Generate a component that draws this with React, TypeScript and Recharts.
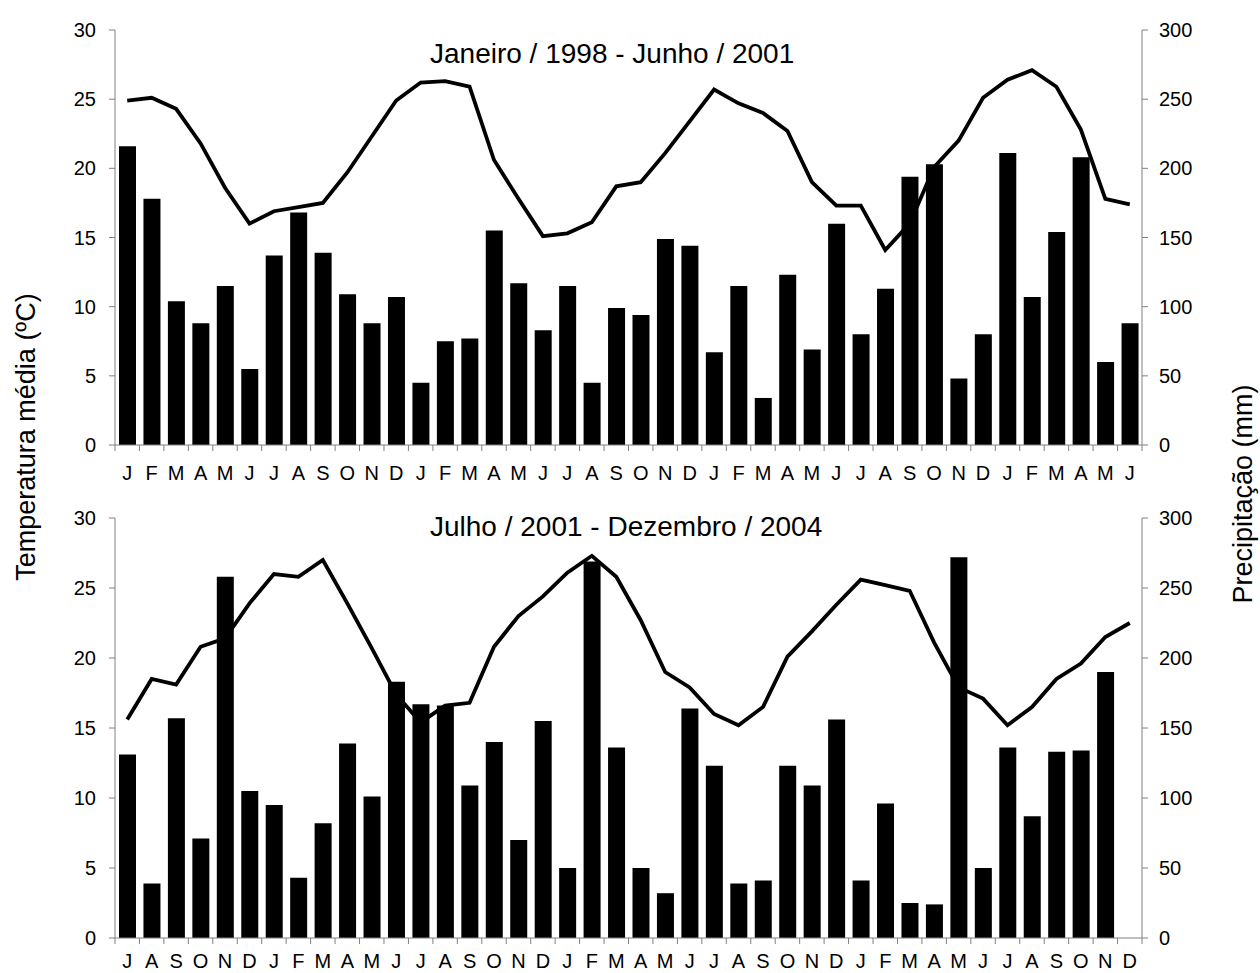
import React from 'react';
import { ComposedChart, Bar, Line, XAxis, YAxis } from 'recharts';

// Jan/1998 - Jun/2001
const TOP_MONTHS = ['J','F','M','A','M','J','J','A','S','O','N','D','J','F','M','A','M','J','J','A','S','O','N','D','J','F','M','A','M','J','J','A','S','O','N','D','J','F','M','A','M','J'];
const TOP_RAIN = [216, 178, 104, 88, 115, 55, 137, 168, 139, 109, 88, 107, 45, 75, 77, 155, 117, 83, 115, 45, 99, 94, 149, 144, 67, 115, 34, 123, 69, 160, 80, 113, 194, 203, 48, 80, 211, 107, 154, 208, 60, 88];
const TOP_TEMP = [24.9, 25.1, 24.3, 21.8, 18.6, 16.0, 16.9, 17.2, 17.5, 19.7, 22.3, 24.9, 26.2, 26.3, 25.9, 20.6, 17.8, 15.1, 15.3, 16.1, 18.7, 19.0, 21.1, 23.4, 25.7, 24.7, 24.0, 22.7, 19.0, 17.3, 17.3, 14.1, 16.0, 20.1, 22.0, 25.1, 26.4, 27.1, 25.9, 22.8, 17.8, 17.4];

// Jul/2001 - Dez/2004 (no rain value for Dec 2004)
const BOTTOM_MONTHS = ['J','A','S','O','N','D','J','F','M','A','M','J','J','A','S','O','N','D','J','F','M','A','M','J','J','A','S','O','N','D','J','F','M','A','M','J','J','A','S','O','N','D'];
const BOTTOM_RAIN = [131, 39, 157, 71, 258, 105, 95, 43, 82, 139, 101, 183, 167, 166, 109, 140, 70, 155, 50, 269, 136, 50, 32, 164, 123, 39, 41, 123, 109, 156, 41, 96, 25, 24, 272, 50, 136, 87, 133, 134, 190, null];
const BOTTOM_TEMP = [15.6, 18.5, 18.1, 20.8, 21.4, 23.9, 26.0, 25.8, 27.0, 23.9, 20.7, 17.4, 15.4, 16.6, 16.8, 20.8, 23.0, 24.4, 26.1, 27.3, 25.8, 22.7, 19.0, 17.9, 16.0, 15.2, 16.5, 20.1, 21.9, 23.8, 25.6, 25.2, 24.8, 21.1, 17.9, 17.1, 15.2, 16.5, 18.5, 19.6, 21.5, 22.5];

const TEMP_TICKS = [0, 5, 10, 15, 20, 25, 30];
const RAIN_TICKS = [0, 50, 100, 150, 200, 250, 300];

const FONT = '"Liberation Sans", Arial, sans-serif';
const AXIS = '#808080';
const W = 1260;
const LEFT_W = 115;
const RIGHT_W = 118;
const X_AXIS_H = 45;
const STEP = (W - LEFT_W - RIGHT_W) / 42;

function Panel({ months, rain, temp, height, top, labelDy }: any) {
  const data = months.map((m: string, i: number) => ({ i, rain: rain[i], temp: temp[i] }));
  const axisY = height - X_AXIS_H;

  // month letter + separator tick at the left edge of each month
  const monthTick = (props: any) => {
    const { x, payload } = props;
    const idx = payload.value;
    const half = STEP / 2;
    return (
      <g>
        <line x1={x - half} x2={x - half} y1={axisY} y2={axisY + 6} stroke={AXIS} />
        {idx === months.length - 1 && (
          <line x1={x + half} x2={x + half} y1={axisY} y2={axisY + 6} stroke={AXIS} />
        )}
        <text x={x} y={axisY + labelDy} textAnchor="middle" fontSize={20} fill="#000">
          {months[idx]}
        </text>
      </g>
    );
  };

  return (
    <div style={{ position: 'absolute', left: 0, top }}>
      <ComposedChart width={W} height={height} data={data} margin={{ top: 30, right: 0, bottom: 0, left: 0 }}>
        <XAxis
          dataKey="i"
          interval={0}
          tickLine={false}
          stroke={AXIS}
          height={X_AXIS_H}
          tick={monthTick}
        />
        <YAxis
          yAxisId="t"
          domain={[0, 30]}
          ticks={TEMP_TICKS}
          width={LEFT_W}
          stroke={AXIS}
          tickSize={6}
          tickMargin={13}
          tick={{ fill: '#000', fontSize: 20 }}
        />
        <YAxis
          yAxisId="p"
          orientation="right"
          domain={[0, 300]}
          ticks={RAIN_TICKS}
          width={RIGHT_W}
          stroke={AXIS}
          tickSize={6}
          tickMargin={11}
          tick={{ fill: '#000', fontSize: 20 }}
        />
        <Bar dataKey="rain" yAxisId="p" fill="#000" barSize={17} isAnimationActive={false} />
        <Line
          dataKey="temp"
          yAxisId="t"
          type="linear"
          stroke="#000"
          strokeWidth={3.8}
          dot={false}
          isAnimationActive={false}
        />
      </ComposedChart>
    </div>
  );
}

const title: React.CSSProperties = {
  position: 'absolute',
  whiteSpace: 'nowrap',
  transform: 'translateY(-50%)',
  fontSize: 28,
};

const axisTitle: React.CSSProperties = {
  position: 'absolute',
  whiteSpace: 'nowrap',
  transform: 'translate(-50%, -50%) rotate(-90deg)',
  fontSize: 27,
};

export default function App() {
  return (
    <div
      style={{
        position: 'absolute',
        left: 0,
        top: 0,
        width: 1260,
        height: 973,
        overflow: 'hidden',
        background: '#fff',
        fontFamily: FONT,
        color: '#000',
      }}
    >
      <Panel months={TOP_MONTHS} rain={TOP_RAIN} temp={TOP_TEMP} height={490} top={0} labelDy={35} />
      <Panel months={BOTTOM_MONTHS} rain={BOTTOM_RAIN} temp={BOTTOM_TEMP} height={495} top={488} labelDy={30} />

      <div style={{ ...title, left: 430, top: 54 }}>Janeiro / 1998 - Junho / 2001</div>
      <div style={{ ...title, left: 430, top: 527 }}>Julho / 2001 - Dezembro / 2004</div>

      <div style={{ ...axisTitle, left: 26, top: 437 }}>Temperatura média (ºC)</div>
      <div style={{ ...axisTitle, left: 1243, top: 494 }}>Precipitação (mm)</div>
    </div>
  );
}
